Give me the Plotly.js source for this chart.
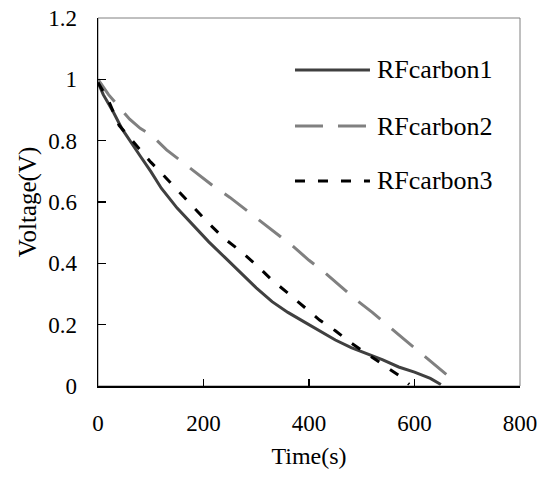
<!DOCTYPE html>
<html>
<head>
<meta charset="utf-8">
<script src="https://cdn.plot.ly/plotly-3.0.1.min.js"></script>
<style>html,body{margin:0;padding:0;background:#fff}#chart{width:542px;height:479px}
#chart svg text{font-family:'Liberation Serif' !important}</style>
</head>
<body>
<div id="chart"></div>
<script>
// ---- data ----
var seriesNames = ["RFcarbon1", "RFcarbon2", "RFcarbon3"];

var t1 = [0, 10, 20, 30, 45, 60, 80, 100, 120, 150, 180, 210, 240, 270, 300, 330, 360, 390, 420, 450, 480, 510, 540, 570, 600, 630, 650];
var v1 = [0.99, 0.95, 0.92, 0.89, 0.84, 0.80, 0.75, 0.70, 0.645, 0.58, 0.525, 0.47, 0.42, 0.37, 0.32, 0.275, 0.24, 0.21, 0.18, 0.15, 0.125, 0.105, 0.085, 0.062, 0.045, 0.025, 0.005];

var t2 = [0, 20, 40, 60, 80, 100, 130, 160, 190, 220, 250, 280, 310, 340, 370, 400, 430, 460, 490, 520, 550, 580, 610, 640, 660, 680];
var v2 = [1.0, 0.95, 0.91, 0.87, 0.84, 0.82, 0.77, 0.73, 0.69, 0.65, 0.615, 0.575, 0.535, 0.495, 0.455, 0.41, 0.37, 0.325, 0.28, 0.24, 0.195, 0.153, 0.11, 0.067, 0.04, 0.01];

var t3 = [0, 20, 40, 60, 80, 100, 120, 150, 180, 210, 240, 270, 300, 330, 360, 390, 420, 450, 480, 510, 540, 570, 590];
var v3 = [0.99, 0.93, 0.85, 0.81, 0.77, 0.73, 0.695, 0.64, 0.585, 0.53, 0.48, 0.44, 0.395, 0.345, 0.303, 0.26, 0.215, 0.18, 0.14, 0.105, 0.07, 0.035, 0.005];

var xTicks = [0, 200, 400, 600, 800];
var yTicks = [0, 0.2, 0.4, 0.6, 0.8, 1, 1.2];
var yTickText = ["0", "0.2", "0.4", "0.6", "0.8", "1", "1.2"];

// ---- styles ----
var colors = ["#404040", "#808080", "#000000"];
var dashes = ["solid", "28px,15px", "10px,13px"];
var fam = "Liberation Serif";

var traces = [
  {x: t1, y: v1},
  {x: t2, y: v2},
  {x: t3, y: v3}
].map(function (d, i) {
  return {
    x: d.x, y: d.y, type: "scatter", mode: "lines", name: seriesNames[i],
    line: {color: colors[i], width: 3, dash: dashes[i]},
    showlegend: false, hoverinfo: "skip"
  };
});

// manual legend (sample lines + labels, paper coords)
var legY = [0.8587, 0.7065, 0.5571];
var shapes = [{
  type: "rect", xref: "paper", yref: "paper", x0: 0, x1: 1, y0: 0, y1: 1,
  line: {color: "#808080", width: 1}, layer: "below"
}];
var annotations = [];
seriesNames.forEach(function (n, i) {
  shapes.push({
    type: "line", xref: "paper", yref: "paper",
    x0: 0.4668, x1: 0.6445, y0: legY[i], y1: legY[i],
    line: {color: colors[i], width: 3, dash: dashes[i]}
  });
  annotations.push({
    xref: "paper", yref: "paper", x: 0.6560, y: legY[i],
    xanchor: "left", yanchor: "middle", showarrow: false,
    text: n, font: {family: fam, size: 26, color: "#000"}
  });
});

var layout = {
  width: 542, height: 479,
  margin: {l: 98, r: 22, t: 18, b: 93, pad: 0},
  paper_bgcolor: "#fff", plot_bgcolor: "#fff",
  font: {family: fam, size: 23, color: "#000"},
  showlegend: false,
  xaxis: {
    range: [0, 800], tickvals: xTicks, ticktext: xTicks.map(String),
    ticks: "inside", ticklen: 7, tickwidth: 1.5, tickcolor: "#000",
    showline: true, linecolor: "#000", linewidth: 1.5,
    showgrid: false, zeroline: false, automargin: false,
    ticklabelstandoff: 16,
    tickfont: {family: fam, size: 23, color: "#000"},
    title: {text: "Time(s)", font: {family: fam, size: 24, color: "#000"}, standoff: 12}
  },
  yaxis: {
    range: [0, 1.2], tickvals: yTicks, ticktext: yTickText,
    ticks: "inside", ticklen: 8, tickwidth: 1.5, tickcolor: "#000",
    showline: true, linecolor: "#000", linewidth: 1.5,
    showgrid: false, zeroline: false, automargin: false,
    ticklabelstandoff: 15,
    tickfont: {family: fam, size: 23, color: "#000"},
    title: {text: "Voltage(V)", font: {family: fam, size: 25, color: "#000"}, standoff: 4}
  },
  shapes: shapes,
  annotations: annotations
};

Plotly.newPlot("chart", traces, layout, {staticPlot: true, displayModeBar: false});
</script>
</body>
</html>
